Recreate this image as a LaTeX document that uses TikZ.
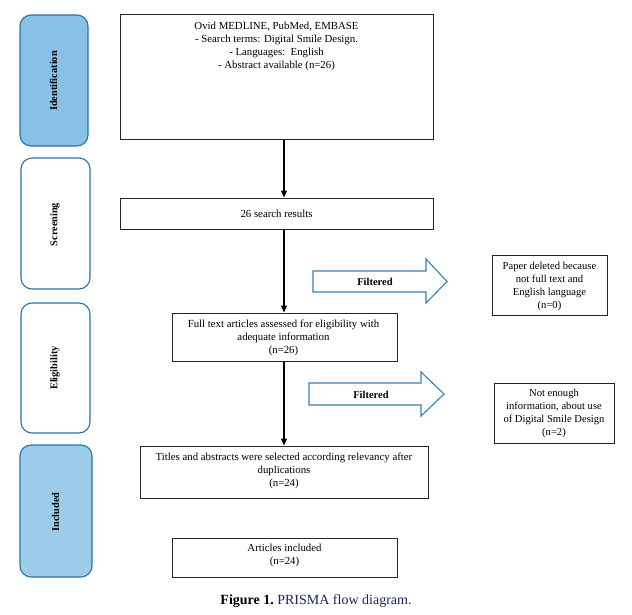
\documentclass[tikz,border=0pt]{standalone}
\usepackage{fontspec}
\setmainfont{Liberation Serif}
\usetikzlibrary{arrows.meta}
\definecolor{sideborder}{HTML}{2674A6}
\definecolor{idfill}{HTML}{88C1E5}
\definecolor{incfill}{HTML}{9DCCEB}
\definecolor{filtborder}{HTML}{3A80AE}
\definecolor{capblue}{HTML}{1E2460}
\tikzset{
  x=1pt,y=-1pt,
  sidebox/.style={draw=sideborder,line width=1.1pt,rounded corners=11pt,inner sep=0pt},
  sidelabel/.style={rotate=90,font=\bfseries\fontsize{10.3}{12}\selectfont},
  mainbox/.style={draw=black!85,line width=1pt,inner sep=0pt},
  boxtext/.style={align=center,font=\fontsize{10.8}{13}\selectfont,inner sep=0pt},
  smalltext/.style={align=center,font=\fontsize{10.6}{13}\selectfont,inner sep=0pt},
  flow/.style={-{Triangle[length=7pt,width=6pt]},line width=1.2pt,black},
  filtarrow/.style={draw=filtborder,line width=1.1pt,fill=white,line join=miter},
  filttext/.style={font=\bfseries\fontsize{10.5}{12}\selectfont,inner sep=0pt},
}
\begin{document}
\begin{tikzpicture}
\useasboundingbox (0,0) rectangle (632,614);
\fill[white] (0,0) rectangle (632,614);

% side stage boxes
\node[sidebox,fill=idfill,minimum width=68pt,minimum height=131pt] (sid) at (54,80.5) {};
\node[sidelabel] (lid) at (53.5,81) {Identification};
\node[sidebox,fill=white,minimum width=69pt,minimum height=131pt] (sscr) at (55.5,223.5) {};
\node[sidelabel] (lscr) at (55,224.5) {Screening};
\node[sidebox,fill=white,minimum width=69pt,minimum height=130pt] (selg) at (55.5,368) {};
\node[sidelabel] (lelg) at (55,368) {Eligibility};
\node[sidebox,fill=incfill,minimum width=72pt,minimum height=132pt] (sinc) at (56,511) {};
\node[sidelabel] (linc) at (55.5,512) {Included};

% main flow boxes
\node[mainbox,minimum width=313pt,minimum height=125pt] (b1) at (276.5,76.5) {};
\node[boxtext,anchor=north] (t1) at (276.5,21.5) {Ovid MEDLINE, PubMed, EMBASE\\- Search terms: Digital Smile Design.\\- Languages:\ \ English\\- Abstract available (n=26)};

\node[mainbox,minimum width=313pt,minimum height=31pt] (b2) at (276.5,213.5) {};
\node[boxtext] (t2) at (276.5,213.5) {26 search results};

\node[mainbox,minimum width=225pt,minimum height=48pt] (b3) at (284.5,337) {};
\node[boxtext] (t3) at (283.5,338) {Full text articles assessed for eligibility with\\adequate information\\(n=26)};

\node[mainbox,minimum width=288pt,minimum height=52pt] (b4) at (284,472) {};
\node[boxtext] (t4) at (284,470.5) {Titles and abstracts were selected according relevancy after\\duplications\\(n=24)};

\node[mainbox,minimum width=225pt,minimum height=39pt] (b5) at (284.5,557.5) {};
\node[boxtext] (t5) at (284.5,555) {Articles included\\(n=24)};

% excluded boxes
\node[mainbox,minimum width=115pt,minimum height=60pt] (r1) at (549.5,285) {};
\node[smalltext] (tr1) at (549.5,286.5) {Paper deleted because\\not full text and\\English language\\(n=0)};
\node[mainbox,minimum width=120pt,minimum height=60pt] (r2) at (554,413) {};
\node[smalltext] (tr2) at (554,413.5) {Not enough\\information, about use\\of Digital Smile Design\\(n=2)};

% flow connectors
\coordinate (ax) at (284,0);
\draw[flow] (b1.south -| ax) -- (b2.north -| ax);
\draw[flow] (b2.south -| ax) -- (b3.north -| ax);
\draw[flow] (b3.south -| ax) -- (b4.north -| ax);

% filtered arrows
\draw[filtarrow] (313,271) -- (426,271) -- (426,259) -- (447,281.5) -- (426,303) -- (426,292) -- (313,292) -- cycle;
\node[filttext] (f1) at (375,282) {Filtered};
\draw[filtarrow] (309,383) -- (421,383) -- (421,372) -- (444,394) -- (421,416) -- (421,405) -- (309,405) -- cycle;
\node[filttext] (f2) at (371,394.5) {Filtered};

% caption
\node[font=\fontsize{14}{16}\selectfont,inner sep=0pt] (cap) at (316,601) {\textbf{Figure 1.}\ \textcolor{capblue}{PRISMA flow diagram.}};
\end{tikzpicture}
\end{document}
